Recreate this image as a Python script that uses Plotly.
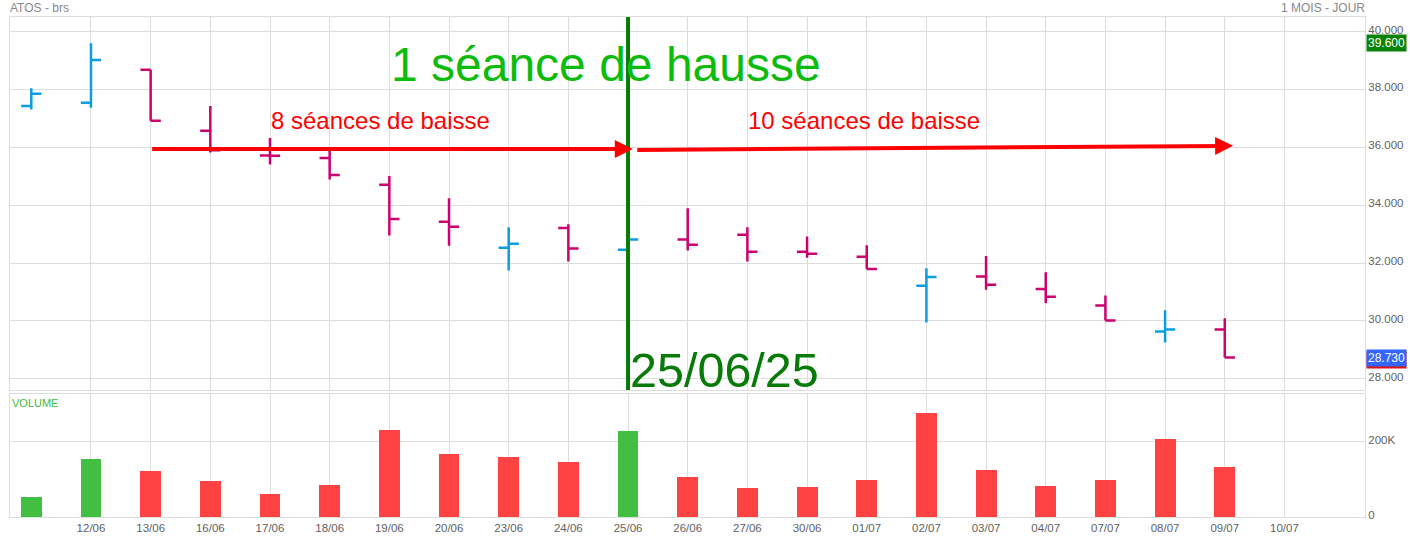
import plotly.graph_objects as go
from plotly.subplots import make_subplots

# ---------------- data ----------------
dates = ["11/06", "12/06", "13/06", "16/06", "17/06", "18/06", "19/06", "20/06",
         "23/06", "24/06", "25/06", "26/06", "27/06", "30/06", "01/07", "02/07",
         "03/07", "04/07", "07/07", "08/07", "09/07"]
tick_labels = ["12/06", "13/06", "16/06", "17/06", "18/06", "19/06", "20/06", "23/06",
               "24/06", "25/06", "26/06", "27/06", "30/06", "01/07", "02/07", "03/07",
               "04/07", "07/07", "08/07", "09/07", "10/07"]

open_ = [37.43, 37.54, 38.68, 36.57, 35.72, 35.63, 34.71, 33.43, 32.53, 33.21, 32.46,
         32.81, 32.98, 32.39, 32.22, 31.21, 31.53, 31.10, 30.53, 29.63, 29.70]
high = [38.04, 39.60, 38.68, 37.43, 36.32, 35.95, 35.01, 34.24, 33.24, 33.34, 32.90,
        33.89, 33.24, 32.92, 32.61, 31.82, 32.24, 31.68, 30.88, 30.37, 30.09]
low = [37.31, 37.37, 36.92, 35.82, 35.41, 34.89, 32.95, 32.60, 31.74, 32.05, 32.40,
       32.43, 32.05, 32.18, 31.79, 29.94, 31.08, 30.61, 30.01, 29.25, 28.73]
close = [37.85, 39.02, 36.92, 35.90, 35.71, 35.04, 33.52, 33.25, 32.67, 32.50, 32.81,
         32.63, 32.39, 32.32, 31.79, 31.52, 31.25, 30.83, 30.01, 29.70, 28.73]
volume = [51900, 152900, 121000, 94400, 60600, 83800, 231900, 166200, 160100, 145000,
          228200, 105000, 77700, 79300, 97100, 275300, 123700, 81100, 98900, 208000, 131600]

price_ticks = [28, 30, 32, 34, 36, 38, 40]
price_tick_text = ["28.000", "30.000", "32.000", "34.000", "36.000", "38.000", "40.000"]
vol_ticks = [0, 200000]
vol_tick_text = ["0", "200K"]

highlight_high = 39.60
last_close = 28.73

# ---------------- derived ----------------
xidx = list(range(len(dates)))
tick_idx = list(range(1, len(tick_labels) + 1))
vol_colors = []
for i, c in enumerate(close):
    if i == 0 or c >= close[i - 1]:
        vol_colors.append("#42bf42")
    else:
        vol_colors.append("#ff4242")

FONT = "Liberation Sans, Arial, sans-serif"
GRID = "#dddddd"
TICKC = "#5f5f5f"

fig = make_subplots(rows=2, cols=1, shared_xaxes=True, vertical_spacing=0.008,
                    row_heights=[0.75, 0.25])

fig.add_trace(go.Ohlc(
    x=xidx, open=open_, high=high, low=low, close=close,
    increasing=dict(line=dict(color="#0a9de0", width=2.5)),
    decreasing=dict(line=dict(color="#cc006e", width=2.5)),
    tickwidth=0.17, text=dates, hoverinfo="text+y", showlegend=False,
), row=1, col=1)

fig.add_trace(go.Bar(
    x=xidx, y=volume, marker=dict(color=vol_colors, line=dict(width=0)),
    width=0.35, showlegend=False, text=dates, hoverinfo="text+y",
    textposition="none",
), row=2, col=1)

xr = [-0.357, 22.35]
common_x = dict(range=xr, tickmode="array", tickvals=tick_idx, showgrid=True,
                gridcolor=GRID, gridwidth=1, zeroline=False, showline=True,
                linecolor=GRID, mirror=True, ticks="", fixedrange=True)
fig.update_xaxes(**common_x)
fig.update_xaxes(showticklabels=False, rangeslider_visible=False, row=1, col=1)
fig.update_xaxes(ticktext=tick_labels, showticklabels=True,
                 tickfont=dict(family=FONT, size=11.5, color=TICKC),
                 rangeslider_visible=False, row=2, col=1)

fig.update_yaxes(range=[27.61, 40.505], side="right", tickmode="array",
                 tickvals=price_ticks, ticktext=price_tick_text,
                 gridcolor=GRID, zeroline=False, showline=True, linecolor=GRID,
                 mirror=True, ticks="", tickfont=dict(family=FONT, size=11.5, color=TICKC),
                 ticklabelshift=-2,
                 domain=[0.254, 1.0], automargin=False, fixedrange=True, row=1, col=1)
fig.update_yaxes(range=[0, 326000], side="right", tickmode="array",
                 tickvals=vol_ticks, ticktext=vol_tick_text,
                 gridcolor=GRID, zeroline=False, showline=True, linecolor=GRID,
                 mirror=True, ticks="", tickfont=dict(family=FONT, size=11.5, color=TICKC),
                 ticklabelshift=-2,
                 domain=[0.0, 0.246], automargin=False, fixedrange=True, row=2, col=1)

# vertical green line on 25/06
i25 = dates.index("25/06")
fig.add_shape(type="line", xref="x", yref="y domain", x0=i25, x1=i25, y0=0, y1=1,
              line=dict(color="#077a07", width=4), layer="above")

annotations = []
# arrows
annotations.append(dict(x=10.08, y=35.94, ax=2.0, ay=35.94, xref="x", yref="y",
                        axref="x", ayref="y", showarrow=True, arrowhead=2,
                        arrowsize=0.9, arrowwidth=4, arrowcolor="#ff0000", text=""))
annotations.append(dict(x=20.14, y=36.05, ax=10.13, ay=35.91, xref="x", yref="y",
                        axref="x", ayref="y", showarrow=True, arrowhead=2,
                        arrowsize=0.9, arrowwidth=4, arrowcolor="#ff0000", text=""))
# texts
annotations.append(dict(x=5.99, y=38.85, xref="x", yref="y", xanchor="left",
                        yanchor="middle", showarrow=False, text="1 séance de hausse",
                        font=dict(family=FONT, size=48, color="#0cbc0c")))
annotations.append(dict(x=10.0, y=28.30, xref="x", yref="y", xanchor="left",
                        yanchor="middle", showarrow=False, text="25/06/25",
                        font=dict(family=FONT, size=48.5, color="#077a07")))
annotations.append(dict(x=3.98, y=36.93, xref="x", yref="y", xanchor="left",
                        yanchor="middle", showarrow=False, text="8 séances de baisse",
                        font=dict(family=FONT, size=24, color="#ff0000")))
annotations.append(dict(x=11.98, y=36.93, xref="x", yref="y", xanchor="left",
                        yanchor="middle", showarrow=False, text="10 séances de baisse",
                        font=dict(family=FONT, size=24, color="#ff0000")))
# header texts
annotations.append(dict(x=0, y=1, xref="paper", yref="paper", xanchor="left",
                        yanchor="bottom", showarrow=False, text="ATOS - brs",
                        font=dict(family=FONT, size=12, color="#888888"),
                        xshift=-2, yshift=0))
annotations.append(dict(x=1, y=1, xref="paper", yref="paper", xanchor="right",
                        yanchor="bottom", showarrow=False, text="1 MOIS - JOUR",
                        font=dict(family=FONT, size=12, color="#888888"),
                        xshift=2, yshift=0))
annotations.append(dict(x=0, y=0.246, xref="paper", yref="paper", xanchor="left",
                        yanchor="top", showarrow=False, text="VOLUME",
                        font=dict(family=FONT, size=11, color="#3cbc3c"),
                        xshift=0, yshift=-1))
# price labels on right axis
annotations.append(dict(x=1, y=highlight_high, xref="paper", yref="y", xanchor="left",
                        yanchor="middle", showarrow=False, text=f"{highlight_high:.3f}",
                        bgcolor="#078307", font=dict(family=FONT, size=12, color="white"),
                        borderpad=1, xshift=1))
annotations.append(dict(x=1, y=last_close, xref="paper", yref="y", xanchor="left",
                        yanchor="middle", showarrow=False, text=f"{last_close:.3f}",
                        bgcolor="#e01010", font=dict(family=FONT, size=12, color="#e01010"),
                        borderpad=1, xshift=1, yshift=-2))
annotations.append(dict(x=1, y=last_close, xref="paper", yref="y", xanchor="left",
                        yanchor="middle", showarrow=False, text=f"{last_close:.3f}",
                        bgcolor="#3366ff", font=dict(family=FONT, size=12, color="white"),
                        borderpad=1, xshift=1))

fig.update_layout(
    width=1410, height=537,
    margin=dict(l=10, r=45, t=17, b=20, autoexpand=False),
    paper_bgcolor="white", plot_bgcolor="white",
    font=dict(family=FONT, color=TICKC),
    annotations=annotations,
    showlegend=False,
    bargap=0,
    hovermode="closest",
)

fig.write_html("out.html", config={"displayModeBar": False},
               post_script="document.body.style.margin='0px';")
